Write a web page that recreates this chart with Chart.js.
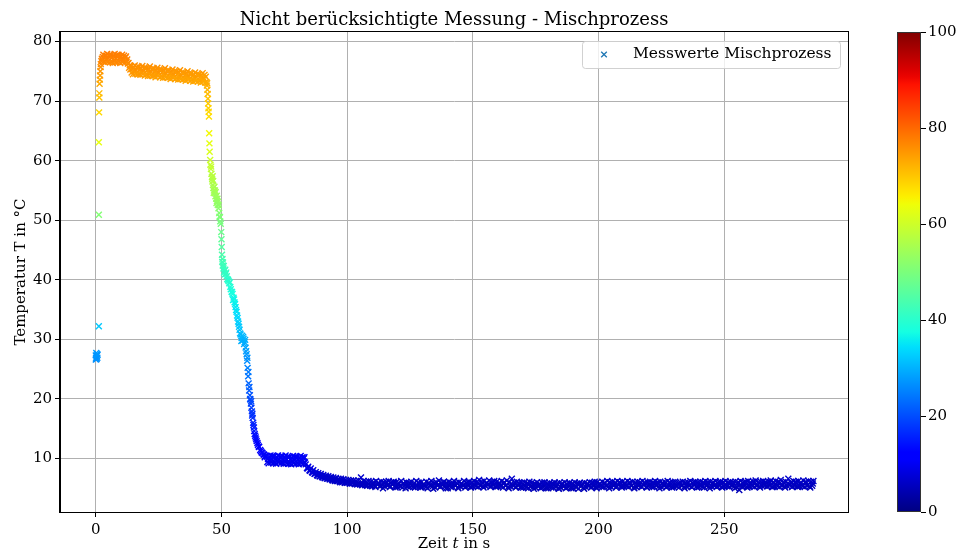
<!DOCTYPE html>
<html lang="de">

<head>
    <meta charset="UTF-8">
    <title>Mischprozess</title>
    <style>
        body { margin: 0; background: #fff; overflow: hidden; }
    </style>
</head>

<body>
    <canvas id="diagramm" width="959" height="553"></canvas>
    <script src="https://cdn.jsdelivr.net/npm/chart.js@4.4.0/dist/chart.umd.min.js"></script>
    <script>
        const anlauf = [
            [0.0, 26.6], [0.0, 27.3], [0.1, 26.9], [0.2, 27.7], [0.3, 26.7], [0.4, 27.2], [0.5, 27.5], [0.6, 26.9],
            [0.7, 27.4], [1.2, 32.2], [1.2, 50.9], [1.2, 63.1], [1.3, 68.1], [1.4, 70.6], [1.4, 71.3], [1.5, 72.9],
            [1.6, 73.6], [1.7, 74.3], [1.8, 75.0], [1.9, 75.7], [2.0, 76.2], [2.2, 76.7], [2.4, 77.1], [2.6, 76.8],
            [2.8, 77.4]
        ];
        const spitze = [
            [3, 77.8], [3.25, 76.7], [3.5, 77.3], [3.75, 76.5], [4, 77.6], [4.25, 77.0], [4.5, 77.9], [4.75, 76.6],
            [5, 77.2], [5.25, 77.7], [5.5, 76.5], [5.75, 77.5], [6, 77.8], [6.25, 76.6], [6.5, 77.3], [6.75, 76.4],
            [7, 77.6], [7.25, 76.9], [7.5, 77.9], [7.75, 76.5], [8, 77.1], [8.25, 77.7], [8.5, 76.5], [8.75, 77.4],
            [9, 77.8], [9.25, 76.7], [9.5, 77.2], [9.75, 76.4], [10, 77.5], [10.25, 77.0], [10.5, 77.8], [10.75, 76.6],
            [11, 77.1], [11.25, 77.6], [11.5, 76.5], [11.75, 77.3], [12, 77.5], [12.25, 76.6], [12.5, 77.0], [12.75, 76.3],
            [13, 76.4], [13.25, 75.6], [13.5, 76.0], [13.75, 75.3]
        ];
        const verlauf = [
            [14, 75.9], [14.25, 74.8], [14.5, 75.4], [14.75, 74.5], [15, 75.7], [15.25, 75.0], [15.5, 76.0], [15.75, 74.6],
            [16, 75.2], [16.25, 75.7], [16.5, 74.5], [16.75, 75.5], [17, 75.8], [17.25, 74.6], [17.5, 75.3], [17.75, 74.4],
            [18, 75.5], [18.25, 74.9], [18.5, 75.9], [18.75, 74.5], [19, 75.0], [19.25, 75.6], [19.5, 74.3], [19.75, 75.4],
            [20, 75.6], [20.25, 74.5], [20.5, 75.1], [20.75, 74.2], [21, 75.4], [21.25, 74.7], [21.5, 75.8], [21.75, 74.3],
            [22, 74.9], [22.25, 75.4], [22.5, 74.2], [22.75, 75.2], [23, 75.5], [23.25, 74.3], [23.5, 74.9], [23.75, 74.0],
            [24, 75.2], [24.25, 74.6], [24.5, 75.6], [24.75, 74.2], [25, 74.7], [25.25, 75.3], [25.5, 74.0], [25.75, 75.1],
            [26, 75.3], [26.25, 74.2], [26.5, 74.8], [26.75, 73.9], [27, 75.1], [27.25, 74.4], [27.5, 75.5], [27.75, 74.0],
            [28, 74.6], [28.25, 75.1], [28.5, 73.9], [28.75, 74.9], [29, 75.2], [29.25, 74.0], [29.5, 74.6], [29.75, 73.7],
            [30, 74.9], [30.25, 74.3], [30.5, 75.3], [30.75, 73.9], [31, 74.4], [31.25, 75.0], [31.5, 73.7], [31.75, 74.8],
            [32, 75.0], [32.25, 73.9], [32.5, 74.5], [32.75, 73.6], [33, 74.8], [33.25, 74.1], [33.5, 75.2], [33.75, 73.7],
            [34, 74.3], [34.25, 74.8], [34.5, 73.6], [34.75, 74.6], [35, 74.8], [35.25, 73.7], [35.5, 74.3], [35.75, 73.4],
            [36, 74.6], [36.25, 74.0], [36.5, 75.0], [36.75, 73.6], [37, 74.1], [37.25, 74.7], [37.5, 73.4], [37.75, 74.5],
            [38, 74.7], [38.25, 73.6], [38.5, 74.2], [38.75, 73.3], [39, 74.4], [39.25, 73.8], [39.5, 74.8], [39.75, 73.4],
            [40, 74.0], [40.25, 74.5], [40.5, 73.3], [40.75, 74.3], [41, 74.5], [41.25, 73.4], [41.5, 74.0], [41.75, 73.1],
            [42, 74.3], [42.25, 73.7], [42.5, 74.7], [42.75, 73.3], [43, 73.8], [43.25, 74.4], [43.5, 73.1], [43.75, 74.1]
        ];
        const abfall = [
            [44.0, 73.2], [44.2, 72.6], [44.3, 73.0], [44.4, 71.9], [44.5, 71.2], [44.6, 70.4], [44.7, 69.6], [44.8, 68.8],
            [44.9, 68.2], [45.0, 67.4], [45.1, 64.6], [45.2, 62.9], [45.5, 60.1], [45.6, 59.3], [45.8, 58.6], [46.0, 57.8],
            [46.2, 57.2], [46.3, 56.9], [46.4, 56.5], [46.6, 55.9], [46.8, 55.4], [46.9, 54.6], [47.0, 55.0], [47.3, 54.5],
            [47.4, 55.0], [47.6, 54.0], [47.9, 53.6], [48.0, 52.9], [48.2, 53.2], [48.4, 53.6], [48.5, 52.6], [48.8, 52.0],
            [49.1, 51.2], [49.4, 50.5], [49.7, 49.4], [49.9, 48.0], [50.0, 46.8], [50.1, 45.5], [50.2, 44.2], [50.3, 43.0],
            [50.5, 42.4], [50.8, 41.9], [51.0, 41.2], [51.2, 41.5], [51.5, 41.7], [51.7, 41.0], [52.1, 40.6], [52.6, 40.0],
            [53.1, 39.4], [53.3, 39.6], [53.5, 38.8], [54.0, 38.0], [54.4, 37.6], [54.8, 37.0], [55.2, 36.2], [55.4, 35.9],
            [55.6, 35.4], [56.0, 34.6], [56.4, 33.6], [56.8, 32.6], [57.2, 31.6], [57.6, 30.8], [57.9, 29.7], [58.0, 30.2],
            [58.4, 29.8], [58.6, 30.4], [58.8, 30.1], [59.0, 29.2], [59.2, 29.5], [59.6, 28.6], [60.0, 27.5], [60.2, 26.4],
            [60.4, 25.2], [60.6, 23.8], [60.8, 22.6], [61.0, 21.4], [61.3, 20.6], [61.5, 19.9], [61.7, 19.2], [61.9, 18.5],
            [62.1, 17.9], [62.2, 17.2], [62.4, 16.8], [62.7, 15.6], [63.0, 14.6], [63.2, 14.1], [63.4, 13.8], [63.8, 13.2],
            [64.0, 12.9], [64.3, 12.6], [64.8, 12.0], [65.0, 11.9], [65.4, 11.4], [66.0, 11.0], [66.3, 10.9], [66.7, 10.7],
            [67.0, 10.6], [67.4, 10.4]
        ];
        // Streuung neben dem Hauptverlauf der Abkühlung
        const abfallStreuung = [
            [45.3, 61.5], [45.9, 59.0], [46.5, 57.4], [46.7, 56.6], [47.2, 55.6], [47.7, 54.7], [48.1, 54.1], [48.6, 53.1],
            [48.9, 52.5], [49.2, 50.6], [49.5, 49.8], [50.4, 43.5], [50.6, 42.9], [50.9, 42.3], [51.4, 40.9], [51.9, 41.2],
            [52.3, 40.1], [52.8, 39.8], [53.7, 38.4], [54.2, 37.9], [54.6, 36.6], [55.0, 36.7], [55.8, 34.9], [56.2, 34.0],
            [56.6, 33.0], [57.0, 32.1], [57.4, 31.0], [58.2, 30.6], [59.4, 29.9], [59.8, 28.0], [60.3, 26.9], [60.7, 24.5],
            [61.1, 22.0], [61.4, 20.0], [61.8, 19.6], [62.3, 17.5], [62.6, 16.0], [62.9, 15.2], [63.6, 13.5], [64.5, 12.3],
            [65.7, 11.2], [67.2, 10.2]
        ];
        const zwischenstufe = [
            [68, 10.4], [68.25, 9.4], [68.5, 9.9], [68.75, 9.2], [69, 10.3], [69.25, 9.7], [69.5, 10.5], [69.75, 9.3],
            [70, 9.8], [70.25, 10.4], [70.5, 9.2], [70.75, 10.2], [71, 10.4], [71.25, 9.3], [71.5, 9.9], [71.75, 9.1],
            [72, 10.2], [72.25, 9.6], [72.5, 10.5], [72.75, 9.3], [73, 9.8], [73.25, 10.3], [73.5, 9.2], [73.75, 10.1],
            [74, 10.4], [74.25, 9.3], [74.5, 9.8], [74.75, 9.1], [75, 10.2], [75.25, 9.6], [75.5, 10.5], [75.75, 9.2],
            [76, 9.8], [76.25, 10.3], [76.5, 9.1], [76.75, 10.1], [77, 10.3], [77.25, 9.2], [77.5, 9.8], [77.75, 9.0],
            [78, 10.1], [78.25, 9.5], [78.5, 10.4], [78.75, 9.2], [79, 9.7], [79.25, 10.3], [79.5, 9.1], [79.75, 10.0],
            [80, 10.3], [80.25, 9.2], [80.5, 9.8], [80.75, 9.0], [81, 10.1], [81.25, 9.5], [81.5, 10.4], [81.75, 9.2],
            [82, 9.7], [82.25, 10.2], [82.5, 9.1], [82.75, 10.0], [83, 10.2], [83.25, 9.3]
        ];
        const nachlauf = [
            [83.5, 9.0], [84, 8.4], [84.5, 8.6], [85, 8.0], [85.5, 8.3], [86, 7.7], [86.5, 8.0], [87, 7.4], [87.5, 7.7], [88, 7.2],
            [88.5, 7.5], [89, 7.0], [89.5, 7.4], [90, 6.9], [90.5, 7.2], [91, 6.7], [91.5, 7.1], [92, 6.6], [92.5, 7.0], [93, 6.5],
            [93.5, 6.9], [94, 6.4], [94.5, 6.8], [95, 6.3], [95.5, 6.7], [96, 6.2], [96.5, 6.6], [97, 6.1], [97.5, 6.6], [98, 6.0],
            [98.5, 6.5], [99, 5.9], [99.5, 6.4], [100, 5.9], [100.5, 6.4], [101, 5.8], [101.5, 6.3], [102, 5.8], [102.5, 6.3], [103, 5.7],
            [103.5, 6.2], [104, 5.6], [104.5, 6.3], [105, 5.7], [105.5, 6.8], [106, 5.5], [106.5, 6.2], [107, 5.6], [107.5, 6.1], [108, 5.4],
            [108.5, 6.2], [109, 5.5], [109.5, 6.1],
            [110, 5.3], [110.5, 6.0], [111, 5.4], [111.5, 6.2], [112, 5.6], [112.5, 5.9], [113, 5.3], [113.5, 6.1], [114, 5.5], [114.5, 6.0],
            [115, 5.3], [115.5, 6.1], [116, 5.5], [116.5, 6.2], [117, 5.2], [117.5, 5.9], [118, 5.6], [118.5, 6.1], [119, 5.3], [119.5, 6.0],
            [120, 5.2], [120.5, 5.9], [121, 5.4], [121.5, 6.2], [122, 5.1], [122.5, 5.8], [123, 5.5], [123.5, 6.0], [124, 5.3], [124.5, 5.9],
            [125, 5.2], [125.5, 6.1], [126, 5.5], [126.5, 5.8], [127, 5.1], [127.5, 6.2], [128, 5.4], [128.5, 5.9], [129, 5.3], [129.5, 6.0],
            [130, 5.2], [130.5, 5.7], [131, 5.5], [131.5, 6.1], [132, 5.0], [132.5, 5.9], [133, 5.6], [133.5, 6.2], [134, 5.3], [134.5, 5.8],
            [135, 5.1], [135.5, 6.0], [136, 5.4], [136.5, 6.3], [137, 5.2], [137.5, 5.8], [138, 5.5], [138.5, 6.1], [139, 5.3], [139.5, 5.9],
            [140, 5.0], [140.5, 6.1], [141, 5.6], [141.5, 5.8], [142, 5.2], [142.5, 6.2], [143, 5.4], [143.5, 5.9], [144, 5.1], [144.5, 6.0],
            [145, 5.3], [145.5, 5.8], [146, 5.5], [146.5, 6.2], [147, 5.1], [147.5, 5.9], [148, 5.4], [148.5, 6.1], [149, 5.2], [149.5, 5.9],
            [150, 5.3], [150.5, 6.2], [151, 5.5], [151.5, 6.0], [152, 5.2], [152.5, 6.4], [153, 5.4], [153.5, 6.1], [154, 5.3], [154.5, 6.2],
            [155, 5.4], [155.5, 5.9], [156, 5.6], [156.5, 6.3], [157, 5.2], [157.5, 6.0], [158, 5.5], [158.5, 6.2], [159, 5.3], [159.5, 6.1],
            [160, 5.3], [160.5, 5.9], [161, 5.5], [161.5, 6.2], [162, 5.1], [162.5, 6.0], [163, 5.4], [163.5, 6.3], [164, 5.2], [164.5, 6.0],
            [165, 5.3], [165.5, 6.6], [166, 5.5], [166.5, 5.9], [167, 5.1], [167.5, 6.1], [168, 5.4], [168.5, 5.8], [169, 5.2], [169.5, 5.9],
            [170, 5.1], [170.5, 6.0], [171, 5.4], [171.5, 5.8], [172, 5.0], [172.5, 6.1], [173, 5.3], [173.5, 5.9], [174, 5.2], [174.5, 5.8],
            [175, 5.1], [175.5, 6.0], [176, 5.3], [176.5, 5.7], [177, 5.0], [177.5, 5.9], [178, 5.2], [178.5, 6.0], [179, 5.1], [179.5, 5.8],
            [180, 5.0], [180.5, 5.9], [181, 5.3], [181.5, 5.7], [182, 5.1], [182.5, 6.0], [183, 5.2], [183.5, 5.8], [184, 5.0], [184.5, 5.9],
            [185, 5.1], [185.5, 5.8], [186, 5.3], [186.5, 6.0], [187, 5.0], [187.5, 5.7], [188, 5.2], [188.5, 5.9], [189, 5.1], [189.5, 5.8],
            [190, 5.0], [190.5, 6.0], [191, 5.2], [191.5, 5.7], [192, 4.9], [192.5, 5.9], [193, 5.3], [193.5, 5.8], [194, 5.1], [194.5, 5.9],
            [195, 5.2], [195.5, 5.8], [196, 5.4], [196.5, 6.0], [197, 5.1], [197.5, 5.9], [198, 5.3], [198.5, 6.1], [199, 5.2], [199.5, 6.0],
            [200, 5.3], [200.5, 5.8], [201, 5.5], [201.5, 6.1], [202, 5.2], [202.5, 5.9], [203, 5.4], [203.5, 6.2], [204, 5.3], [204.5, 6.0],
            [205, 5.2], [205.5, 6.1], [206, 5.4], [206.5, 5.9], [207, 5.1], [207.5, 6.2], [208, 5.5], [208.5, 6.0], [209, 5.3], [209.5, 6.1],
            [210, 5.3], [210.5, 5.9], [211, 5.5], [211.5, 6.2], [212, 5.2], [212.5, 6.0], [213, 5.4], [213.5, 6.1], [214, 5.1], [214.5, 5.9],
            [215, 5.2], [215.5, 6.1], [216, 5.4], [216.5, 6.0], [217, 5.3], [217.5, 6.2], [218, 5.5], [218.5, 5.9], [219, 5.2], [219.5, 6.0],
            [220, 5.3], [220.5, 6.1], [221, 5.4], [221.5, 5.9], [222, 5.2], [222.5, 6.2], [223, 5.5], [223.5, 6.0], [224, 5.3], [224.5, 6.1],
            [225, 5.2], [225.5, 5.9], [226, 5.5], [226.5, 6.0], [227, 5.1], [227.5, 6.2], [228, 5.4], [228.5, 5.9], [229, 5.3], [229.5, 6.0],
            [230, 5.2], [230.5, 6.1], [231, 5.4], [231.5, 5.8], [232, 5.1], [232.5, 6.0], [233, 5.5], [233.5, 6.1], [234, 5.2], [234.5, 5.9],
            [235, 5.3], [235.5, 6.0], [236, 5.4], [236.5, 6.2], [237, 5.2], [237.5, 5.9], [238, 5.5], [238.5, 6.1], [239, 5.3], [239.5, 6.0],
            [240, 5.2], [240.5, 6.1], [241, 5.5], [241.5, 5.9], [242, 5.1], [242.5, 6.2], [243, 5.4], [243.5, 6.0], [244, 5.3], [244.5, 6.1],
            [245, 5.3], [245.5, 6.0], [246, 5.5], [246.5, 6.2], [247, 5.2], [247.5, 5.9], [248, 5.4], [248.5, 6.1], [249, 5.2], [249.5, 6.0],
            [250, 5.3], [250.5, 6.2], [251, 5.4], [251.5, 5.9], [252, 5.2], [252.5, 6.1], [253, 5.5], [253.5, 6.0], [254, 5.3], [254.5, 6.1],
            [255, 5.2], [255.5, 6.0], [256, 4.7], [256.5, 6.2], [257, 5.4], [257.5, 5.9], [258, 5.3], [258.5, 6.1], [259, 5.2], [259.5, 6.2],
            [260, 5.3], [260.5, 6.0], [261, 5.5], [261.5, 6.1], [262, 5.2], [262.5, 6.3], [263, 5.4], [263.5, 6.0], [264, 5.3], [264.5, 6.1],
            [265, 5.4], [265.5, 6.2], [266, 5.5], [266.5, 6.0], [267, 5.3], [267.5, 6.1], [268, 5.4], [268.5, 6.3], [269, 5.2], [269.5, 6.0],
            [270, 5.3], [270.5, 6.2], [271, 5.5], [271.5, 6.1], [272, 5.2], [272.5, 6.4], [273, 5.4], [273.5, 6.0], [274, 5.3], [274.5, 6.1],
            [275, 5.4], [275.5, 6.6], [276, 5.5], [276.5, 6.0], [277, 5.2], [277.5, 6.2], [278, 5.4], [278.5, 6.1], [279, 5.3], [279.5, 6.2],
            [280, 5.3], [280.5, 6.0], [281, 5.5], [281.5, 6.3], [282, 5.2], [282.5, 6.1], [283, 5.4], [283.5, 6.2], [284, 5.3], [284.5, 6.1],
            [285, 5.4], [285.5, 6.2]
        ];
        // zusätzliche Messpunkte zwischen den obigen Zeitpunkten
        const nachlaufMitte = [
            [84.25, 8.3], [85.25, 7.9], [86.25, 7.6], [87.25, 7.4], [88.25, 7.1], [89.25, 7.0], [90.25, 6.8], [91.25, 6.7], [92.25, 6.6], [93.25, 6.5],
            [94.25, 6.3], [95.25, 6.2], [96.25, 6.2], [97.25, 6.0], [98.25, 6.1], [99.25, 5.9], [100.25, 6.0], [101.25, 5.8], [102.25, 5.9], [103.25, 5.7],
            [104.25, 5.8], [105.25, 5.6], [106.25, 5.8], [107.25, 5.5], [108.25, 5.7], [109.25, 5.4],
            [110.25, 5.6], [111.25, 5.2], [112.25, 5.8], [113.25, 5.4], [114.25, 5.0], [115.25, 5.7], [116.25, 5.5], [117.25, 5.3], [118.25, 5.9], [119.25, 5.1],
            [120.25, 5.6], [121.25, 5.3], [122.25, 5.8], [123.25, 5.0], [124.25, 5.5], [125.25, 5.7], [126.25, 5.2], [127.25, 5.4], [128.25, 5.9], [129.25, 5.1],
            [130.25, 5.5], [131.25, 5.2], [132.25, 5.7], [133.25, 5.4], [134.25, 4.9], [135.25, 5.8], [136.25, 5.6], [137.25, 5.3], [138.25, 5.9], [139.25, 5.0],
            [140.25, 5.6], [141.25, 5.2], [142.25, 5.8], [143.25, 5.5], [144.25, 5.0], [145.25, 5.7], [146.25, 5.4], [147.25, 5.3], [148.25, 5.9], [149.25, 5.1],
            [150.25, 5.7], [151.25, 5.3], [152.25, 5.9], [153.25, 5.5], [154.25, 5.1], [155.25, 5.8], [156.25, 5.6], [157.25, 5.4], [158.25, 6.0], [159.25, 5.2],
            [160.25, 5.6], [161.25, 5.3], [162.25, 5.8], [163.25, 5.5], [164.25, 5.0], [165.25, 5.7], [166.25, 5.4], [167.25, 5.2], [168.25, 5.9], [169.25, 5.1],
            [170.25, 5.5], [171.25, 5.1], [172.25, 5.7], [173.25, 5.3], [174.25, 4.9], [175.25, 5.6], [176.25, 5.4], [177.25, 5.2], [178.25, 5.8], [179.25, 5.0],
            [180.25, 5.5], [181.25, 5.1], [182.25, 5.7], [183.25, 5.3], [184.25, 4.9], [185.25, 5.6], [186.25, 5.3], [187.25, 5.1], [188.25, 5.8], [189.25, 5.0],
            [190.25, 5.5], [191.25, 5.2], [192.25, 5.7], [193.25, 5.4], [194.25, 4.9], [195.25, 5.6], [196.25, 5.4], [197.25, 5.2], [198.25, 5.8], [199.25, 5.0],
            [200.25, 5.6], [201.25, 5.2], [202.25, 5.8], [203.25, 5.4], [204.25, 5.0], [205.25, 5.7], [206.25, 5.5], [207.25, 5.3], [208.25, 5.9], [209.25, 5.1],
            [210.25, 5.6], [211.25, 5.3], [212.25, 5.8], [213.25, 5.4], [214.25, 5.0], [215.25, 5.7], [216.25, 5.5], [217.25, 5.2], [218.25, 5.9], [219.25, 5.1],
            [220.25, 5.6], [221.25, 5.2], [222.25, 5.8], [223.25, 5.5], [224.25, 5.0], [225.25, 5.7], [226.25, 5.4], [227.25, 5.3], [228.25, 5.9], [229.25, 5.1],
            [230.25, 5.6], [231.25, 5.3], [232.25, 5.8], [233.25, 5.4], [234.25, 5.0], [235.25, 5.7], [236.25, 5.5], [237.25, 5.2], [238.25, 5.9], [239.25, 5.1],
            [240.25, 5.6], [241.25, 5.2], [242.25, 5.8], [243.25, 5.5], [244.25, 5.0], [245.25, 5.7], [246.25, 5.4], [247.25, 5.3], [248.25, 5.9], [249.25, 5.1],
            [250.25, 5.6], [251.25, 5.3], [252.25, 5.8], [253.25, 5.4], [254.25, 5.0], [255.25, 5.7], [256.25, 5.5], [257.25, 5.2], [258.25, 5.9], [259.25, 5.1],
            [260.25, 5.7], [261.25, 5.3], [262.25, 5.9], [263.25, 5.5], [264.25, 5.1], [265.25, 5.8], [266.25, 5.5], [267.25, 5.3], [268.25, 6.0], [269.25, 5.2],
            [270.25, 5.7], [271.25, 5.3], [272.25, 5.9], [273.25, 5.5], [274.25, 5.1], [275.25, 5.8], [276.25, 5.6], [277.25, 5.3], [278.25, 6.0], [279.25, 5.2],
            [280.25, 5.7], [281.25, 5.3], [282.25, 5.9], [283.25, 5.5], [284.25, 5.1], [285.25, 5.8]
        ];

        const xTicks = [0, 50, 100, 150, 200, 250];
        const yTicks = [10, 20, 30, 40, 50, 60, 70, 80];
        const farbTicks = [0, 20, 40, 60, 80, 100];

        const schrift = "'DejaVu Serif', serif";
        Chart.defaults.font.family = schrift;
        Chart.defaults.color = "#000";

        // jet-Farbskala wie in matplotlib
        const jetStuetzen = {
            r: [[0, 0], [0.35, 0], [0.66, 1], [0.89, 1], [1, 0.5]],
            g: [[0, 0], [0.125, 0], [0.375, 1], [0.64, 1], [0.91, 0], [1, 0]],
            b: [[0, 0.5], [0.11, 1], [0.34, 1], [0.65, 0], [1, 0]]
        };
        function kanal(stuetzen, v) {
            for (let i = 1; i < stuetzen.length; i++) {
                const [x1, y1] = stuetzen[i];
                if (v <= x1) {
                    const [x0, y0] = stuetzen[i - 1];
                    return y0 + (y1 - y0) * (v - x0) / (x1 - x0);
                }
            }
            return stuetzen[stuetzen.length - 1][1];
        }
        function jet(v) {
            v = Math.min(1, Math.max(0, v));
            const r = Math.round(kanal(jetStuetzen.r, v) * 255);
            const g = Math.round(kanal(jetStuetzen.g, v) * 255);
            const b = Math.round(kanal(jetStuetzen.b, v) * 255);
            return "rgb(" + r + "," + g + "," + b + ")";
        }

        const punkte = [...anlauf, ...spitze, ...verlauf, ...abfall, ...abfallStreuung, ...zwischenstufe, ...nachlauf, ...nachlaufMitte]
            .map(([t, T]) => ({ x: t, y: T }));
        const farben = punkte.map(p => jet(p.y / 100));

        const tickFont = { family: schrift, size: 15 };

        const rahmen = {
            id: "rahmen",
            afterDraw(chart) {
                const { ctx, chartArea: a } = chart;
                ctx.save();
                ctx.strokeStyle = "#000";
                ctx.lineWidth = 1;
                ctx.strokeRect(Math.round(a.left) - 0.5, Math.round(a.top) - 0.5,
                    Math.round(a.right - a.left) + 1, Math.round(a.bottom - a.top) + 1);
                ctx.restore();
            }
        };

        const farbbalken = {
            id: "farbbalken",
            afterDraw(chart) {
                const { ctx, chartArea } = chart;
                const skala = chart.scales.farbe;
                const x0 = Math.round(chartArea.right) + 49;
                const breite = 24;
                const oben = skala.getPixelForValue(100);
                const unten = skala.getPixelForValue(0);
                const verlaufFarbe = ctx.createLinearGradient(0, unten, 0, oben);
                for (let i = 0; i <= 64; i++) verlaufFarbe.addColorStop(i / 64, jet(i / 64));
                ctx.save();
                ctx.fillStyle = verlaufFarbe;
                ctx.fillRect(x0, oben, breite, unten - oben);
                ctx.strokeStyle = "#333";
                ctx.lineWidth = 1;
                ctx.strokeRect(x0 + 0.5, Math.round(oben) + 0.5, breite - 1, Math.round(unten - oben) - 1);
                ctx.strokeStyle = "#000";
                ctx.beginPath();
                for (const v of farbTicks) {
                    const y = Math.round(skala.getPixelForValue(v)) + 0.5;
                    ctx.moveTo(x0 + breite, y);
                    ctx.lineTo(x0 + breite + 5, y);
                }
                ctx.stroke();
                ctx.restore();
            }
        };

        const legende = {
            id: "legende",
            afterDraw(chart) {
                const { ctx, chartArea: a } = chart;
                const text = "Messwerte Mischprozess";
                ctx.save();
                ctx.font = "15.5px " + schrift;
                const w = 258;
                const h = 27;
                const x = a.right - 8 - w;
                const y = a.top + 9;
                ctx.beginPath();
                ctx.roundRect(x + 0.5, y + 0.5, w, h, 3);
                ctx.fillStyle = "rgba(255,255,255,0.8)";
                ctx.fill();
                ctx.strokeStyle = "rgba(204,204,204,0.9)";
                ctx.lineWidth = 1;
                ctx.stroke();
                const mx = x + 22, my = y + 13.5;
                ctx.strokeStyle = "#1f77b4";
                ctx.lineWidth = 1.3;
                ctx.beginPath();
                ctx.moveTo(mx - 2.8, my - 2.8); ctx.lineTo(mx + 2.8, my + 2.8);
                ctx.moveTo(mx - 2.8, my + 2.8); ctx.lineTo(mx + 2.8, my - 2.8);
                ctx.stroke();
                ctx.fillStyle = "#000";
                ctx.textBaseline = "middle";
                ctx.fillText(text, x + 51, my - 1);
                ctx.restore();
            }
        };

        // Achsentitel x mit kursivem t
        const xTitel = {
            id: "xTitel",
            afterDraw(chart) {
                const { ctx, chartArea: a } = chart;
                const teile = [["Zeit ", "15px "], ["t", "italic 15px "], [" in s", "15px "]];
                ctx.save();
                ctx.fillStyle = "#000";
                ctx.textBaseline = "middle";
                let gesamt = 0;
                for (const [s, f] of teile) { ctx.font = f + schrift; gesamt += ctx.measureText(s).width; }
                let x = (a.left + a.right) / 2 - gesamt / 2;
                for (const [s, f] of teile) {
                    ctx.font = f + schrift;
                    ctx.fillText(s, x, 544);
                    x += ctx.measureText(s).width;
                }
                ctx.restore();
            }
        };

        new Chart(document.getElementById("diagramm"), {
            type: "scatter",
            data: {
                datasets: [{
                    label: "Messwerte Mischprozess",
                    data: punkte,
                    pointStyle: "crossRot",
                    pointRadius: 4.2,
                    pointBorderWidth: 1.4,
                    pointBorderColor: farben,
                    pointBackgroundColor: farben
                }]
            },
            options: {
                responsive: false,
                animation: false,
                devicePixelRatio: 1,
                layout: { padding: 0 },
                plugins: {
                    legend: { display: false },
                    tooltip: { enabled: false },
                    title: {
                        display: true,
                        fullSize: false,
                        text: "Nicht berücksichtigte Messung - Mischprozess",
                        color: "#000",
                        font: { family: schrift, size: 18, weight: "normal" },
                        padding: { top: 10, bottom: 0.4 }
                    }
                },
                scales: {
                    x: {
                        type: "linear",
                        position: "bottom",
                        min: -14.25,
                        max: 299.25,
                        z: 1,
                        afterBuildTicks: s => { s.ticks = xTicks.map(v => ({ value: v })); },
                        ticks: { font: tickFont, color: "#000", padding: 4, maxRotation: 0 },
                        grid: { color: "#b0b0b0", lineWidth: 1, tickColor: "#000", tickLength: 5, tickWidth: 1 },
                        border: { color: "#000", width: 1 },
                        afterFit: s => { s.height = 41; }
                    },
                    y: {
                        type: "linear",
                        position: "left",
                        min: 1.0,
                        max: 81.6,
                        z: 1,
                        afterBuildTicks: s => { s.ticks = yTicks.map(v => ({ value: v })); },
                        ticks: { font: tickFont, color: "#000", padding: 3 },
                        grid: { color: "#b0b0b0", lineWidth: 1, tickColor: "#000", tickLength: 5, tickWidth: 1 },
                        border: { color: "#000", width: 1 },
                        title: {
                            display: true,
                            text: "Temperatur T in °C",
                            color: "#000",
                            font: { family: schrift, size: 15 },
                            padding: { top: 12, bottom: 0 }
                        },
                        afterFit: s => { s.width = 60; }
                    },
                    farbe: {
                        type: "linear",
                        axis: "y",
                        position: "right",
                        min: 0,
                        max: 100,
                        afterBuildTicks: s => { s.ticks = farbTicks.map(v => ({ value: v })); },
                        ticks: { font: tickFont, color: "#000", padding: 3 },
                        grid: { drawOnChartArea: false, drawTicks: true, tickLength: 77, tickColor: "rgba(0,0,0,0)" },
                        border: { display: false },
                        afterFit: s => { s.width = 111; }
                    }
                }
            },
            plugins: [rahmen, farbbalken, legende, xTitel]
        });
    </script>
</body>

</html>
